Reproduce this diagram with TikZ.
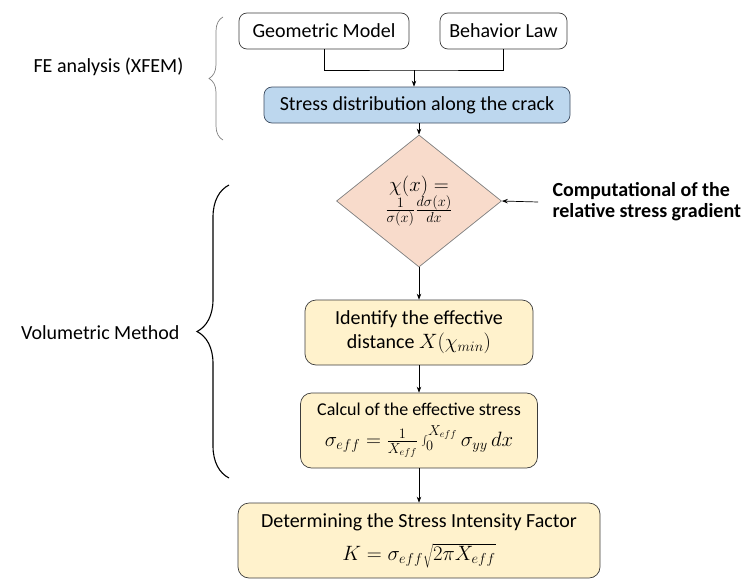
\documentclass[tikz,border=0pt]{standalone}
\usepackage{fontspec}
\setmainfont{Carlito}
\usetikzlibrary{arrows.meta,positioning,shapes.geometric,decorations.pathreplacing}
\definecolor{stressblue}{RGB}{189,215,238}
\definecolor{stressedge}{RGB}{60,75,95}
\definecolor{gradpeach}{RGB}{248,219,203}
\definecolor{stepyellow}{RGB}{255,242,204}
\definecolor{edgegray}{RGB}{60,60,60}

\begin{document}
\begin{tikzpicture}[
    x=1pt, y=-1pt,
    box/.style={draw=edgegray, rounded corners=8pt, line width=0.7pt, minimum height=36pt, inner sep=0pt, font=\fontsize{20}{24}\selectfont, align=center},
    stepbox/.style={box, fill=stepyellow, rounded corners=11pt},
    sidetext/.style={font=\fontsize{20}{24}\selectfont},
    >={Stealth[length=6pt,width=4.5pt]}
]
\useasboundingbox (0,0) rectangle (749,586);

% inputs of the FE model
\node[box, minimum width=170pt] (geom) at (324,31) {Geometric Model};
\node[box, minimum width=127pt] (law) at (503.5,31) {Behavior Law};
\coordinate (join) at (414,70);
\node[box, fill=stressblue, draw=stressedge, minimum width=306pt] (stress) at (417,105) {Stress distribution along the crack};

% gradient
\node[diamond, draw=gray, fill=gradpeach, line width=0.7pt, aspect=1.25, minimum width=165pt, minimum height=132pt, inner sep=0pt, align=center, font=\fontsize{20}{22}\selectfont] (chi) at (419,201) {$\chi(x) =$\\[-2pt]$\frac{1}{\sigma(x)}\frac{d\sigma(x)}{dx}$};
\node[sidetext, font=\fontsize{20}{21}\selectfont\bfseries, align=left, anchor=west] (grad) at (549,202) {Computational of the\\relative stress gradient};

% volumetric steps
\node[stepbox, minimum width=228pt, minimum height=65pt] (ident) at (419,332.5) {Identify the effective\\distance $X(\chi_{min})$};
\node[stepbox, minimum width=237pt, minimum height=75pt] (calc) at (419,430.5) {{\fontsize{18}{22}\selectfont Calcul of the effective stress}\\[7pt]$\sigma_{eff}=\frac{1}{X_{eff}}\int_0^{X_{eff}}\sigma_{yy}\,dx$};
\node[stepbox, minimum width=362pt, minimum height=75pt] (sif) at (419,540.5) {Determining the Stress Intensity Factor\\[9pt]$K=\sigma_{eff}\sqrt{2\pi X_{eff}}$};

\draw[line width=0.7pt] (geom.south) |- (join) -| (law.south);
\draw[->, line width=0.7pt] (join) -- (join |- stress.north);
\draw[->, line width=0.7pt] (stress.south -| chi.north) -- (chi.north);
\draw[->, line width=0.7pt] ([xshift=-11pt]grad.west) -- (chi.east);
\draw[->, line width=0.7pt] (chi.south) -- (ident.north);
\draw[->, line width=0.7pt] (ident) -- (calc);
\draw[->, line width=0.7pt] (calc) -- (sif);

% braces and their labels
\draw[decorate, decoration={brace, amplitude=14pt}, draw=gray, line width=0.7pt] (223,140) -- (223,17);
\node[sidetext, anchor=east] (fe) at (187,67) {FE analysis (XFEM)};
\draw[decorate, decoration={brace, amplitude=32pt}, line width=1.1pt] (229,478) -- (229,185);
\node[sidetext, anchor=east] (vol) at (183,333) {Volumetric Method};
\end{tikzpicture}
\end{document}
